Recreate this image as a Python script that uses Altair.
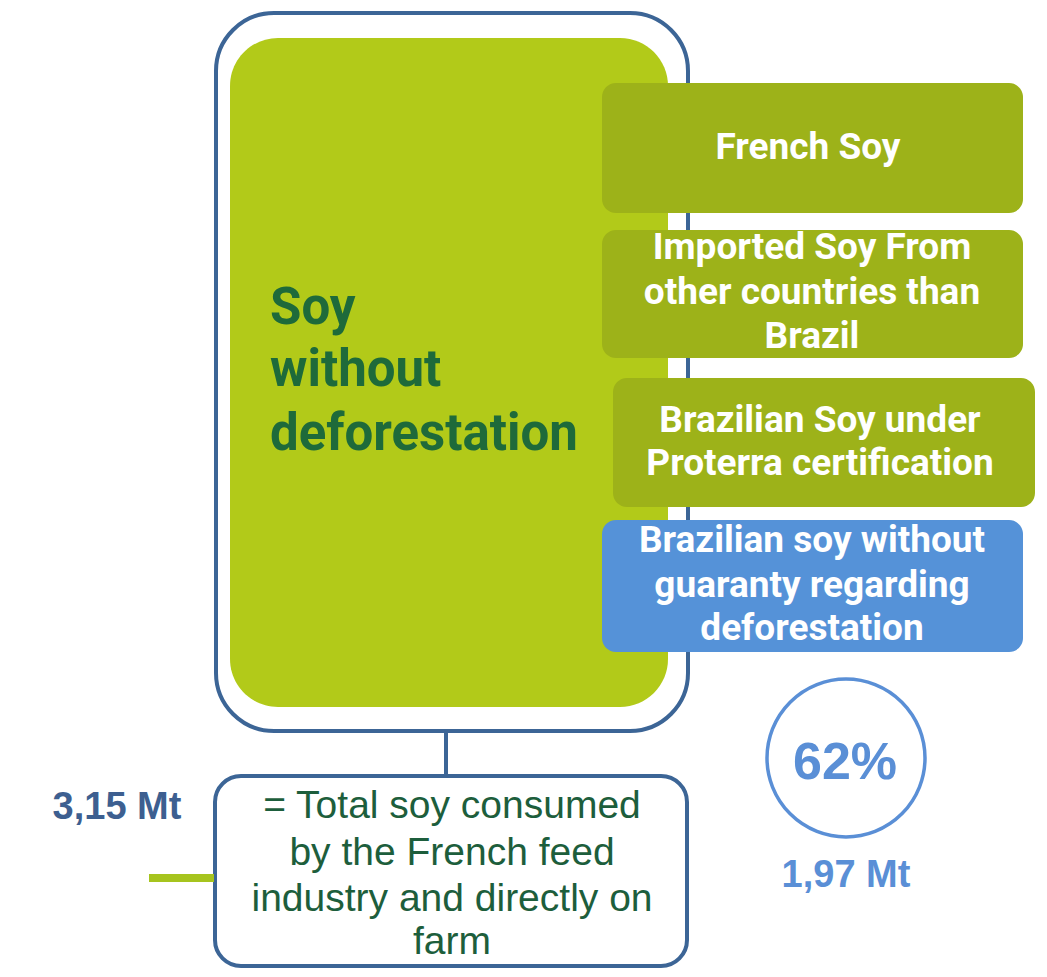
import altair as alt
import pandas as pd

# ---- content (values and labels) ----
total_mt = 3.15
no_guarantee_mt = 1.97
share_pct = 62

main_label = ["Soy", "without", "deforestation"]
category_labels = [
    ["French Soy"],
    ["Imported Soy From", "other countries than", "Brazil"],
    ["Brazilian Soy under", "Proterra certification"],
    ["Brazilian soy without", "guaranty regarding", "deforestation"],
]
category_colors = ["#9DB219", "#9DB219", "#9DB219", "#5592D8"]
total_label = ["= Total soy consumed", "by the French feed", "industry and directly on", "farm"]

def fr(v):
    return f"{v:.2f}".replace(".", ",") + " Mt"

# ---- layout (pixel positions in page coordinates) ----
W, H = 1031, 961
xs = alt.Scale(domain=[8, 8 + W], range=[0, W], zero=False, nice=False)
ys = alt.Scale(domain=[8, 8 + H], range=[0, H], zero=False, nice=False)
X = lambda f: alt.X(f, type="quantitative", scale=xs, axis=None)
Y = lambda f: alt.Y(f, type="quantitative", scale=ys, axis=None)
X2 = lambda f: alt.X2(f)
Y2 = lambda f: alt.Y2(f)

BLUE = "#3C6596"

def box(x, x2, y, y2, **kw):
    return alt.Chart(pd.DataFrame([{"x": x, "x2": x2, "y": y, "y2": y2}])).mark_rect(**kw).encode(
        x=X("x"), x2=X2("x2"), y=Y("y"), y2=Y2("y2"))

def rule(x, x2, y, y2, **kw):
    return alt.Chart(pd.DataFrame([{"x": x, "x2": x2, "y": y, "y2": y2}])).mark_rule(**kw).encode(
        x=X("x"), x2=X2("x2"), y=Y("y"), y2=Y2("y2"))

def texts(rows, **kw):
    return alt.Chart(pd.DataFrame(rows)).mark_text(**kw).encode(
        x=X("x"), y=Y("y"), text="t:N")

layers = []
layers.append(box(216, 688, 13, 731, cornerRadius=58, fill="white", stroke=BLUE, strokeWidth=4))
layers.append(rule(446, 446, 731, 776, stroke=BLUE, strokeWidth=4))
layers.append(box(215, 687, 776, 966, cornerRadius=26, fill="white", stroke=BLUE, strokeWidth=4))
layers.append(rule(149, 214, 878, 878, stroke="#A6C41E", strokeWidth=8))
layers.append(box(230, 668, 38, 707, cornerRadius=48, fill="#B2CA19"))

box_pos = [(602, 1023, 83, 213), (602, 1023, 230, 358), (613, 1035, 378, 507), (602, 1023, 520, 652)]
box_rows = []
for (x, x2, y, y2), c in zip(box_pos, category_colors):
    box_rows.append({"x": x, "x2": x2, "y": y, "y2": y2, "c": c})
layers.append(alt.Chart(pd.DataFrame(box_rows)).mark_rect(cornerRadius=14).encode(
    x=X("x"), x2=X2("x2"), y=Y("y"), y2=Y2("y2"),
    color=alt.Color("c:N", scale=None)))

# circle
layers.append(alt.Chart(pd.DataFrame([{"x": 846, "y": 758}])).mark_point(
    shape="circle", size=158 * 158, filled=False, stroke="#5A8FD6", strokeWidth=3.5, opacity=1).encode(
    x=X("x"), y=Y("y")))

# main label
main_y = [309, 371, 435]
layers.append(texts([{"x": 270, "y": yy, "t": t} for yy, t in zip(main_y, main_label)],
                    align="left", baseline="middle", font="Roboto", fontWeight="bold",
                    fontSize=51, color="#1E6A3A"))

# category labels
cat_lines_y = [[148], [248, 293, 337], [421, 464], [541, 586, 629]]
cat_cx = [808, 812, 820, 812]
rows = []
for lines, ys_, cx in zip(category_labels, cat_lines_y, cat_cx):
    for t, yy in zip(lines, ys_):
        rows.append({"x": cx, "y": yy, "t": t})
layers.append(texts(rows, align="center", baseline="middle", font="Roboto", fontWeight="bold",
                    fontSize=37, color="white"))

# total label
tot_y = [806, 853, 899, 942]
layers.append(texts([{"x": 452, "y": yy, "t": t} for yy, t in zip(tot_y, total_label)],
                    align="center", baseline="middle", font="Liberation Sans", fontSize=39,
                    color="#1D5E3C"))

layers.append(texts([{"x": 117, "y": 808, "t": fr(total_mt)}], align="center", baseline="middle",
                    font="Liberation Sans", fontWeight="bold", fontSize=38, color="#3D5F90"))
layers.append(texts([{"x": 845, "y": 763, "t": f"{share_pct}%"}], align="center", baseline="middle",
                    font="Liberation Sans", fontWeight="bold", fontSize=52, color="#5A8FD6"))
layers.append(texts([{"x": 846, "y": 876, "t": fr(no_guarantee_mt)}], align="center", baseline="middle",
                    font="Liberation Sans", fontWeight="bold", fontSize=38, color="#5A8FD6"))

chart = alt.layer(*layers).properties(
    width=W, height=H, autosize=alt.AutoSizeParams(type="none"), padding=0,
    background="white"
).configure_view(stroke=None)

chart.save("out.html", embed_options={"renderer": "svg", "actions": False})
